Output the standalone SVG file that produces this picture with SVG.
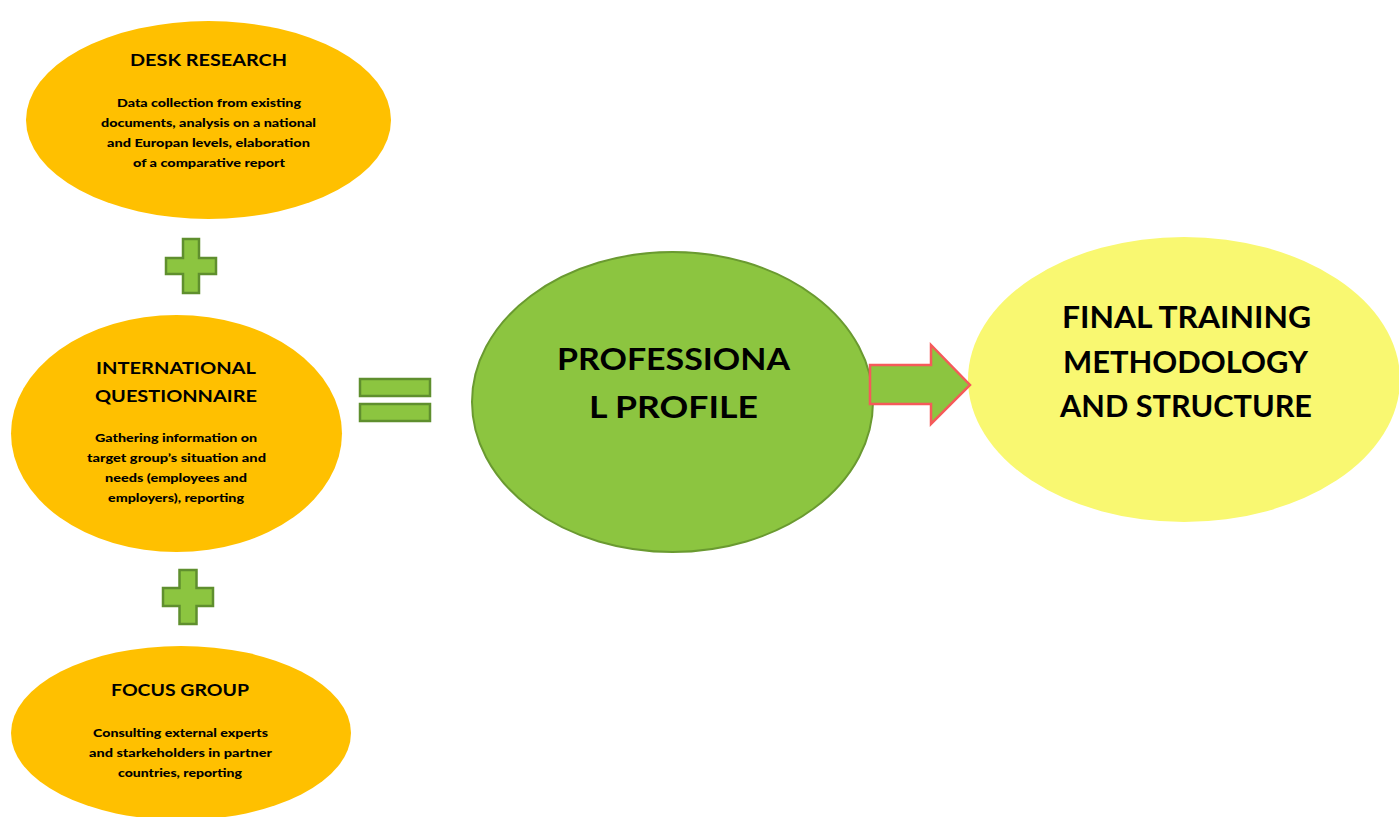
<svg xmlns="http://www.w3.org/2000/svg" width="1399" height="817" viewBox="0 0 1399 817">
<style>
.bg{fill:#ffffff}
.orange{fill:#FFC000}
.green{fill:#8CC540;stroke:#6A9A30;stroke-width:2}
.yellow{fill:#F9F871}
.op{fill:#8CC540;stroke:#5F8F2E;stroke-width:2.5}
.arrow{fill:#8CC540;stroke:#F55A5A;stroke-width:2.5;stroke-linejoin:miter}
text{font-family:Lato,"Open Sans","Liberation Sans",sans-serif;fill:#000;text-anchor:middle}
.h{font-size:17px;font-weight:700}
.b{font-size:12px;font-weight:900}
.big{font-size:31px;font-weight:700}
</style>
<rect class="bg" x="0" y="0" width="1399" height="817"/>
<g id="desk-research">
<ellipse class="orange" cx="208.5" cy="120" rx="182.5" ry="99"/>
<text class="h" x="208.5" y="66" textLength="157" lengthAdjust="spacingAndGlyphs">DESK RESEARCH</text>
<text class="b" x="209" y="107" textLength="184" lengthAdjust="spacingAndGlyphs">Data collection from existing</text>
<text class="b" x="208.5" y="127" textLength="215" lengthAdjust="spacingAndGlyphs">documents, analysis on a national</text>
<text class="b" x="208.5" y="147" textLength="203" lengthAdjust="spacingAndGlyphs">and Europan levels, elaboration</text>
<text class="b" x="209" y="167" textLength="152" lengthAdjust="spacingAndGlyphs">of a comparative report</text>
</g>
<g id="questionnaire">
<ellipse class="orange" cx="176.5" cy="433.5" rx="165.5" ry="118.5"/>
<text class="h" x="176" y="374" textLength="160" lengthAdjust="spacingAndGlyphs">INTERNATIONAL</text>
<text class="h" x="176" y="402" textLength="162" lengthAdjust="spacingAndGlyphs">QUESTIONNAIRE</text>
<text class="b" x="176" y="442" textLength="162" lengthAdjust="spacingAndGlyphs">Gathering information on</text>
<text class="b" x="176.5" y="462" textLength="179" lengthAdjust="spacingAndGlyphs">target group’s situation and</text>
<text class="b" x="176" y="482" textLength="142" lengthAdjust="spacingAndGlyphs">needs (employees and</text>
<text class="b" x="176" y="502" textLength="136" lengthAdjust="spacingAndGlyphs">employers), reporting</text>
</g>
<g id="focus-group">
<ellipse class="orange" cx="181" cy="733" rx="170" ry="87"/>
<text class="h" x="180" y="696" textLength="138" lengthAdjust="spacingAndGlyphs">FOCUS GROUP</text>
<text class="b" x="180.5" y="737" textLength="175" lengthAdjust="spacingAndGlyphs">Consulting external experts</text>
<text class="b" x="180.5" y="757" textLength="183" lengthAdjust="spacingAndGlyphs">and starkeholders in partner</text>
<text class="b" x="180" y="777" textLength="124" lengthAdjust="spacingAndGlyphs">countries, reporting</text>
</g>
<g id="plus-1">
<path class="op" d="M183 239 H199 V258 H216 V274 H199 V293 H183 V274 H166 V258 H183 Z"/>
</g>
<g id="plus-2">
<path class="op" d="M179.5 570 H196.5 V588 H213 V606 H196.5 V624 H179.5 V606 H163 V588 H179.5 Z"/>
</g>
<g id="equals">
<rect class="op" x="360" y="379" width="70" height="17"/>
<rect class="op" x="360" y="404" width="70" height="17"/>
</g>
<g id="professional-profile">
<ellipse class="green" cx="672.5" cy="402" rx="200.5" ry="150"/>
<text class="big" x="673.5" y="370" textLength="233" lengthAdjust="spacingAndGlyphs">PROFESSIONA</text>
<text class="big" x="673.5" y="418" textLength="169" lengthAdjust="spacingAndGlyphs">L PROFILE</text>
</g>
<g id="final-training">
<ellipse class="yellow" cx="1184" cy="379.5" rx="216" ry="142.5"/>
<text class="big" x="1186.5" y="328" textLength="249" lengthAdjust="spacingAndGlyphs">FINAL TRAINING</text>
<text class="big" x="1185.5" y="373" textLength="245" lengthAdjust="spacingAndGlyphs">METHODOLOGY</text>
<text class="big" x="1186" y="417" textLength="252" lengthAdjust="spacingAndGlyphs">AND STRUCTURE</text>
</g>
<g id="connectors">
<path class="arrow" d="M870 365 H931 V345 L970 385 L931 424 V404 H870 Z"/>
</g>
</svg>
